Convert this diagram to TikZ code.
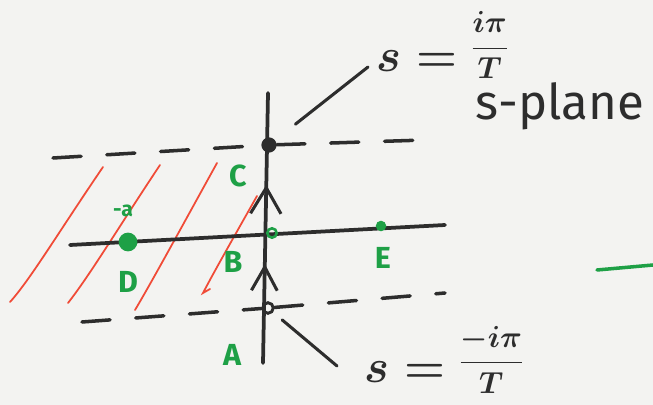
\documentclass[tikz,border=0pt]{standalone}
\usepackage{fix-cm}
\usepackage{fontspec}
\setmainfont{Fira Sans}
\usetikzlibrary{arrows.meta,decorations.markings}
\definecolor{ink}{RGB}{45,45,45}
\definecolor{mkgreen}{RGB}{30,160,70}
\definecolor{mkred}{RGB}{240,75,55}
\definecolor{paper}{RGB}{243,243,241}
\newcommand{\bigs}{{\fontsize{40}{46}\selectfont$s=$}}
\newcommand{\eqfrac}[3]{\raisebox{#3}{\fontsize{26}{30}\selectfont\boldmath$\displaystyle\frac{#1}{#2}$}}
\tikzset{
  axis/.style={ink, line width=3.2pt, line cap=round},
  dashline/.style={ink, line width=3pt, line cap=round, dash pattern=on 24pt off 22pt},
  leader/.style={ink, line width=2.6pt, line cap=round},
  stripe/.style={mkred, line width=1.5pt, line cap=round},
  lbl/.style={mkgreen, font=\fontsize{26}{30}\selectfont\bfseries},
  eqn/.style={ink, anchor=base west, inner sep=0pt, font=\boldmath},
  bdot/.style={circle, fill=ink, inner sep=0pt, minimum size=13pt},
  odot/.style={circle, draw=ink, line width=2.5pt, inner sep=0pt, minimum size=9pt},
  gdot/.style={circle, fill=mkgreen, inner sep=0pt, minimum size=#1},
  chevrons/.style={postaction={decorate}, decoration={markings,
    mark=at position 0.367 with {\arrow{Straight Barb[length=20pt, width=22pt, line width=2.6pt]}},
    mark=at position 0.66 with {\arrow{Straight Barb[length=22pt, width=26pt, line width=2.6pt]}}}}
}
\begin{document}
\begin{tikzpicture}[x=0.03cm, y=-0.03cm]
\fill[paper] (0,0) rectangle (653,405);
\useasboundingbox (0,0) rectangle (653,405);
% strip of red lines
\draw[stripe] (103,167) .. controls (60,230) and (30,280) .. (10,302);
\draw[stripe] (160,165) .. controls (120,225) and (90,275) .. (68,303);
\draw[stripe] (217,163) .. controls (180,230) and (150,285) .. (135,310);
\draw[stripe] (257,196) .. controls (235,235) and (215,270) .. (203,293) -- (210,289);
% axes
\coordinate (vbot) at (263,363);
\coordinate (vtop) at (268,93);
\coordinate (hl) at (70,245);
\coordinate (hr) at (445,225);
\draw[axis] (hl) -- (hr);
\draw[axis, chevrons] (vbot) -- (vtop);
% points at s = +-i pi/T
\node[bdot] (ptop) at (269,145) {};
\node[odot] (pbot) at (268,308) {};
\coordinate (dtl) at (53,158);
\coordinate (dtr) at (425,140);
\coordinate (dbl) at (82,322);
\coordinate (dbr) at (445,293);
\draw[dashline] (dtl) -- (ptop) -- (dtr);
\draw[dashline] (dbl) -- (pbot) -- (dbr);
% green points
\node[gdot=16pt] (pD) at (128,242) {};
\node[circle, draw=mkgreen, line width=2.2pt, inner sep=0pt, minimum size=8pt] (p0) at (272,233) {};
\node[gdot=9pt] (pE) at (381,226) {};
\draw[mkgreen, line width=3pt, line cap=round] (597,270) -- (653,265);
% labels
\node[lbl] (C) at (238,176) {C};
\node[lbl] (B) at (233,262) {B};
\node[lbl] (D) at (128,282) {D};
\node[lbl] (A) at (232,355) {A};
\node[lbl] (E) at (383,258) {E};
\node[mkgreen, font=\fontsize{18}{20}\selectfont\bfseries] (ma) at (123,211) {-a};
\node[eqn] (stop) at (376,72) {\bigs\hspace{12pt}\eqfrac{i\pi}{T}{14pt}};
\node[eqn] (sbot) at (364,382) {\bigs\hspace{12pt}\eqfrac{-i\pi}{T}{10pt}};
\node[ink, font=\fontsize{42}{48}\selectfont] (plane) at (560,106) {s-plane};
\coordinate (ltop) at (368,67);
\coordinate (lbot) at (337,366);
\draw[leader, shorten >=22pt] (ltop) -- (ptop);
\draw[leader, shorten >=10pt] (lbot) -- (pbot);
\end{tikzpicture}
\end{document}
